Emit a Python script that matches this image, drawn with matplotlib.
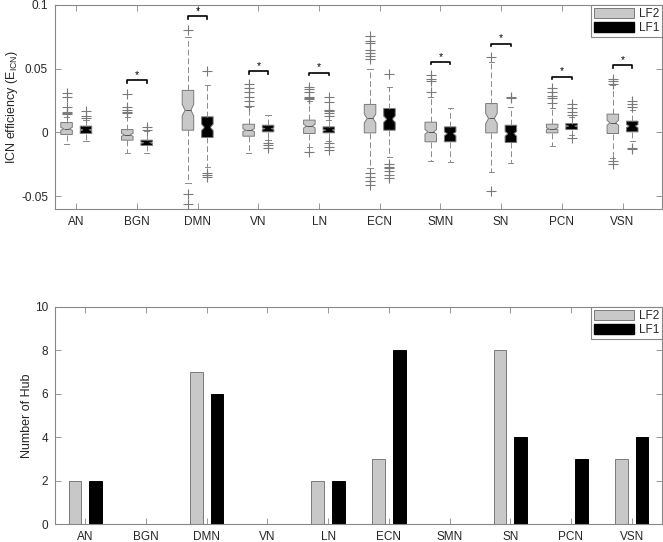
import numpy as np
import matplotlib
matplotlib.use("Agg")
import matplotlib.pyplot as plt
from matplotlib.patches import Patch

plt.rcParams['font.family'] = ['Liberation Sans', 'DejaVu Sans']
plt.rcParams['font.size'] = 8.5

networks = ['AN', 'BGN', 'DMN', 'VN', 'LN', 'ECN', 'SMN', 'SN', 'PCN', 'VSN']

# box statistics (LF2 = grey, LF1 = black)
med_lf2 = [0.0029, -0.0018, 0.0175, 0.0018, 0.005, 0.011, 0.0005, 0.011, 0.0029, 0.0076]
q1_lf2 = [-0.0016, -0.006, 0.0018, -0.0029, -0.0008, -0.0003, -0.0073, -0.0003, -0.0003, -0.0008]
q3_lf2 = [0.0078, 0.0023, 0.033, 0.0065, 0.0097, 0.022, 0.0081, 0.0227, 0.0065, 0.0144]
lo_lf2 = [-0.009, -0.016, -0.040, -0.016, -0.011, -0.028, -0.022, -0.031, -0.0104, -0.020]
hi_lf2 = [0.012, 0.012, 0.075, 0.020, 0.025, 0.050, 0.028, 0.055, 0.019, 0.037]
notch_lf2 = [0.0012, 0.0012, 0.0045, 0.0012, 0.0015, 0.0035, 0.0018, 0.004, 0.0008, 0.002]
fliers_lf2 = [
    [0.031, 0.028, 0.020, 0.016, 0.015, 0.0145],
    [0.030, 0.020, 0.018, 0.016, 0.015],
    [0.080, -0.048, -0.056],
    [0.038, 0.035, 0.032, 0.028, 0.025, 0.021],
    [0.036, 0.034, 0.032, 0.028, 0.027, 0.026, -0.015],
    [0.076, 0.072, 0.070, 0.065, 0.062, 0.060, 0.058, -0.032, -0.035, -0.038, -0.041],
    [0.045, 0.042, 0.040, 0.032],
    [0.059, -0.046],
    [0.035, 0.032, 0.029, 0.027, 0.023],
    [0.042, 0.040, 0.038, -0.022, -0.025],
]

med_lf1 = [0.002, -0.008, 0.004, 0.003, 0.0018, 0.0104, -0.001, -0.001, 0.005, 0.005]
q1_lf1 = [-0.0008, -0.0102, -0.0039, 0.0005, -0.0003, 0.0018, -0.0073, -0.0078, 0.0023, 0.0005]
q3_lf1 = [0.005, -0.006, 0.0123, 0.0057, 0.0044, 0.0188, 0.0044, 0.0057, 0.007, 0.0089]
lo_lf1 = [-0.007, -0.016, -0.027, -0.006, -0.007, -0.019, -0.023, -0.024, -0.002, -0.007]
hi_lf1 = [0.010, 0.0013, 0.037, 0.0136, 0.010, 0.036, 0.019, 0.020, 0.012, 0.0175]
notch_lf1 = [0.0006, 0.0006, 0.0025, 0.0006, 0.0006, 0.0025, 0.0015, 0.0018, 0.0005, 0.0012]
fliers_lf1 = [
    [0.017, 0.013, 0.011],
    [0.004, 0.002],
    [0.048, -0.032, -0.033, -0.035],
    [-0.008, -0.010, -0.012],
    [0.028, 0.024, 0.018, 0.017, 0.015, 0.013, -0.008, -0.011, -0.014],
    [0.046, -0.025, -0.027, -0.028, -0.030, -0.033, -0.036],
    [],
    [0.028, 0.027],
    [0.022, 0.019, 0.016, 0.014, -0.004],
    [0.025, 0.022, 0.020, -0.012, -0.013],
]

# significance brackets
sig_idx = [1, 2, 3, 4, 6, 7, 8, 9]
sig_height = [0.041, 0.091, 0.048, 0.047, 0.0553, 0.0697, 0.0436, 0.0527]

# hub counts
hub_lf2 = [2, 0, 7, 0, 2, 3, 0, 8, 0, 3]
hub_lf1 = [2, 0, 6, 0, 2, 8, 0, 4, 3, 4]

GREY = '#c8c8c8'
EDGE = '#7a7a7a'
AXC = '#888888'
TXT = '#262626'


def stats(med, q1, q3, lo, hi, notch, fl):
    out = []
    for i in range(len(med)):
        out.append(dict(med=med[i], q1=q1[i], q3=q3[i], whislo=lo[i], whishi=hi[i],
                        cilo=med[i] - notch[i], cihi=med[i] + notch[i],
                        fliers=np.array(fl[i])))
    return out


def style_axes(ax):
    for s in ax.spines.values():
        s.set_color(AXC)
        s.set_linewidth(0.8)
    ax.tick_params(direction='in', length=4, width=0.6, color=AXC, labelcolor=TXT,
                   top=True, right=True, labelsize=8.5, pad=5)


fig = plt.figure(figsize=(6.63, 5.42), dpi=100)
ax1 = fig.add_axes([0.083, 0.6144, 0.9155, 0.3764])
ax2 = fig.add_axes([0.083, 0.0332, 0.9155, 0.4004])

pos = np.arange(1, 11)
off = 0.16
w = 0.19

for st, p, face, medc in [
    (stats(med_lf2, q1_lf2, q3_lf2, lo_lf2, hi_lf2, notch_lf2, fliers_lf2), pos - off, GREY, '#555555'),
    (stats(med_lf1, q1_lf1, q3_lf1, lo_lf1, hi_lf1, notch_lf1, fliers_lf1), pos + off, 'black', 'black'),
]:
    ax1.bxp(st, positions=p, widths=w, shownotches=True, patch_artist=True,
            capwidths=w * 0.45,
            boxprops=dict(facecolor=face, edgecolor=EDGE, linewidth=0.7),
            whiskerprops=dict(color='#8a8a8a', linewidth=0.7, linestyle=(0, (6, 3))),
            capprops=dict(color='#8a8a8a', linewidth=0.7),
            medianprops=dict(color=medc, linewidth=0.7),
            flierprops=dict(marker='+', markersize=6.5, markeredgecolor='#7a7a7a',
                            markeredgewidth=0.8, linestyle='none'))

for i, h in zip(sig_idx, sig_height):
    x0, x1 = pos[i] - off, pos[i] + off
    ax1.plot([x0, x0, x1, x1], [h - 0.0018, h, h, h - 0.0018], color='black', lw=1.2)
    ax1.text(pos[i], h + 0.0003, '*', ha='center', va='bottom', fontsize=7.5, color='black')

ax1.set_xlim(0.65, 10.65)
ax1.set_ylim(-0.06, 0.1)
ax1.set_xticks(pos)
ax1.set_xticklabels(networks)
ax1.set_yticks([-0.05, 0, 0.05, 0.1])
ax1.set_yticklabels(['-0.05', '0', '0.05', '0.1'])
ax1.set_ylabel('ICN efficiency (E$_{\\mathregular{ICN}}$)', color=TXT, fontsize=9, labelpad=1)
style_axes(ax1)

handles = [Patch(facecolor=GREY, edgecolor=EDGE, linewidth=0.7, label='LF2'),
           Patch(facecolor='black', edgecolor='black', label='LF1')]
for ax in (ax1, ax2):
    lg = ax.legend(handles=handles, loc='upper right', borderaxespad=0, fontsize=8.5,
                   handlelength=3.4, handleheight=0.9, handletextpad=0.4,
                   labelspacing=0.15, borderpad=0.25, fancybox=False, framealpha=1)
    lg.get_frame().set_edgecolor(AXC)
    lg.get_frame().set_linewidth(0.8)
    for t in lg.get_texts():
        t.set_color(TXT)

bw = 0.21
bo = 0.17
ax2.bar(pos - bo, hub_lf2, width=bw, color=GREY, edgecolor=EDGE, linewidth=0.7)
ax2.bar(pos + bo, hub_lf1, width=bw, color='black', edgecolor='black', linewidth=0.7)
ax2.set_xlim(0.5, 10.5)
ax2.set_ylim(0, 10)
ax2.set_xticks(pos)
ax2.set_xticklabels(networks)
ax2.set_yticks(range(0, 11, 2))
ax2.set_ylabel('Number of Hub', color=TXT, fontsize=9, labelpad=1)
style_axes(ax2)

fig.savefig('out.png', dpi=100)
